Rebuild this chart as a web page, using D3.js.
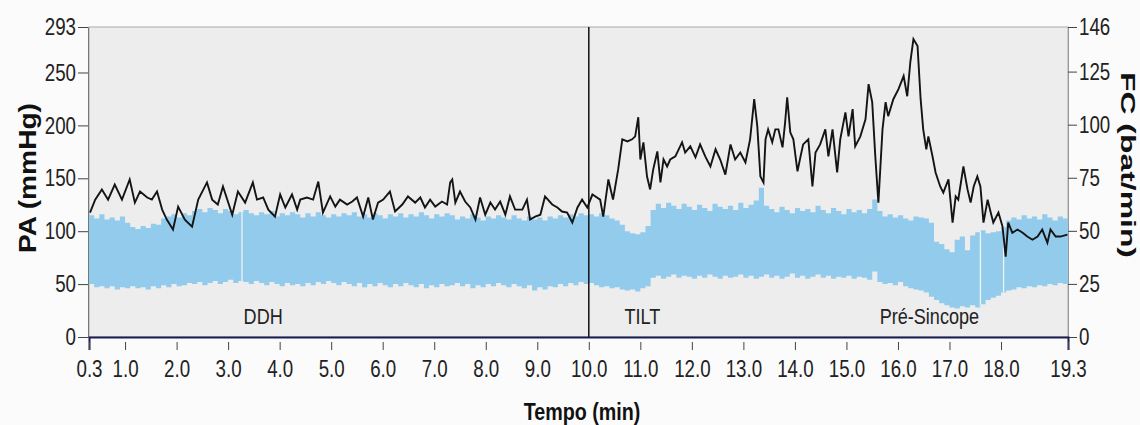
<!DOCTYPE html>
<html>
<head>
<meta charset="utf-8">
<script src="https://cdn.jsdelivr.net/npm/d3@7"></script>
<style>
  body { margin: 0; background: #fbfbfb; }
  .chart text { font-family: 'Liberation Sans', Arial, sans-serif; fill: #222; }
  .chart text.title { font-weight: bold; fill: #111; }
</style>
</head>
<body>
<div class="chart"></div>
<script>
// ticks
const paTicks = [0, 50, 100, 150, 200, 250, 293]
const fcTicks = [0, 25, 50, 75, 100, 125, 146]
const timeTicks = [0.3, 1, 2, 3, 4, 5, 6, 7, 8, 9, 10, 11, 12, 13, 14, 15, 16, 17, 18, 19.3]

// PA band (mmHg), one value every 0.1 min from 0.3
const bandStart = 0.3
const bandStep = 0.1
const paUpper = [
  115,112,116,111,113,110,114,108,104,102,
  105,103,107,106,112,114,116,113,117,115,
  119,121,118,122,120,117,121,119,116,118,
  120,117,115,118,116,119,114,117,115,118,
  116,113,117,114,118,115,113,116,114,117,
  115,118,114,116,113,117,115,112,116,114,
  117,113,116,114,118,115,112,116,114,117,
  115,111,114,112,116,113,110,114,112,115,
  113,111,115,112,110,114,111,113,110,114,
  112,115,113,116,114,117,115,116,114,117,
  115,112,110,106,100,98,97,99,105,120,
  126,122,127,124,121,126,123,120,125,122,
  119,126,123,121,124,120,127,122,125,129,
  141,124,121,118,123,120,117,122,119,121,
  118,124,120,117,122,119,116,121,118,120,
  117,121,130,119,114,116,113,115,112,110,
  114,113,112,108,90,88,83,80,92,95,
  82,96,99,101,98,99,100,104,110,113,
  111,115,112,114,111,116,113,110,114,112,113
]
const paLower = [
  50,47,48,46,48,45,47,46,48,46,
  47,45,48,46,49,47,50,48,49,51,
  50,52,49,51,53,50,52,54,51,53,
  52,50,53,51,49,52,50,48,51,49,
  50,48,51,49,52,50,53,51,49,52,
  50,48,51,47,50,48,51,49,47,50,
  48,51,49,47,50,46,49,47,50,48,
  49,51,48,50,46,49,47,50,48,51,
  49,47,50,48,46,49,44,47,45,48,
  47,50,48,51,49,52,50,51,49,47,
  48,46,47,45,44,45,43,46,48,56,
  58,55,57,59,56,58,57,55,58,56,
  59,57,55,58,56,57,59,56,58,55,
  57,59,56,58,55,57,60,56,58,55,
  57,59,56,58,55,57,56,58,55,57,
  56,54,62,52,50,51,49,52,48,46,
  45,44,42,38,35,32,30,28,27,29,
  28,30,28,31,35,37,39,42,44,45,
  47,46,48,47,49,48,50,49,51,50,49
]
const bandGaps = [3.27, 17.6, 18.05]

// FC (bat/min) : [tempo, valor]
const fcSeries = [
  [0.32,58.6],[0.42,64.7],[0.55,69.5],[0.67,64.7],[0.80,71.8],[0.94,64.7],[1.09,74.2],[1.19,63.3],[1.29,68.5],[1.43,65.7],
  [1.52,64.7],[1.62,68.5],[1.72,60.0],[1.81,55.3],[1.93,50.6],[2.03,61.4],[2.16,55.3],[2.30,52.0],[2.42,64.7],[2.59,72.8],
  [2.69,64.7],[2.80,62.4],[2.90,70.9],[3.08,57.6],[3.19,68.5],[3.33,63.3],[3.48,72.8],[3.56,64.7],[3.68,65.7],[3.78,60.0],
  [3.91,56.7],[4.01,67.1],[4.11,61.0],[4.24,67.1],[4.34,60.0],[4.40,64.7],[4.53,65.7],[4.65,64.7],[4.75,73.2],[4.84,58.6],
  [4.98,66.2],[5.08,61.4],[5.17,64.7],[5.31,62.4],[5.41,63.8],[5.50,65.7],[5.62,56.7],[5.72,65.7],[5.81,55.3],[5.91,63.3],
  [6.01,64.7],[6.14,68.5],[6.24,59.1],[6.38,62.4],[6.49,66.2],[6.63,63.3],[6.73,65.7],[6.82,61.0],[6.92,64.7],[7.02,61.4],
  [7.15,63.8],[7.25,62.4],[7.31,72.8],[7.35,74.2],[7.41,63.3],[7.50,68.5],[7.60,63.8],[7.70,61.0],[7.80,55.3],[7.89,65.7],
  [7.99,57.6],[8.09,63.3],[8.18,60.0],[8.28,63.8],[8.38,57.6],[8.47,66.2],[8.57,60.0],[8.71,60.0],[8.80,64.7],[8.86,55.3],
  [8.96,56.7],[9.06,57.6],[9.15,66.2],[9.29,62.4],[9.39,61.0],[9.48,59.1],[9.58,58.6],[9.68,53.9],[9.78,61.0],[9.87,64.7],
  [9.97,61.0],[10.07,67.1],[10.13,66.2],[10.22,64.7],[10.28,56.7],[10.38,74.2],[10.47,64.7],[10.57,78.9],[10.65,93.1],[10.75,92.1],
  [10.84,93.1],[10.90,94.5],[10.96,103.5],[11.00,83.6],[11.06,91.7],[11.13,75.6],[11.19,69.5],[11.25,78.9],[11.33,87.4],[11.39,72.8],
  [11.45,83.6],[11.52,80.3],[11.58,83.6],[11.68,85.1],[11.81,91.7],[11.87,86.9],[11.97,89.8],[12.07,84.6],[12.16,90.7],[12.26,85.1],
  [12.36,80.3],[12.46,88.4],[12.55,83.6],[12.65,76.5],[12.75,90.7],[12.84,83.6],[12.94,86.9],[13.04,82.2],[13.13,93.1],[13.21,112.0],
  [13.27,99.2],[13.33,75.6],[13.39,72.8],[13.43,93.1],[13.48,97.8],[13.56,91.7],[13.62,97.8],[13.68,97.8],[13.76,89.3],[13.81,101.1],
  [13.85,112.9],[13.91,96.4],[13.97,93.1],[14.05,78.0],[14.11,85.1],[14.16,90.7],[14.26,93.1],[14.34,70.9],[14.40,86.9],[14.49,90.7],
  [14.59,97.8],[14.65,85.1],[14.73,97.8],[14.82,77.5],[14.88,93.1],[14.98,105.8],[15.04,94.5],[15.12,107.3],[15.17,89.8],[15.27,94.5],
  [15.37,102.5],[15.43,119.1],[15.50,110.6],[15.56,85.1],[15.62,63.3],[15.70,97.8],[15.76,110.6],[15.81,104.0],[15.91,112.0],[16.01,116.7],
  [16.11,122.9],[16.18,113.4],[16.24,129.5],[16.30,140.3],[16.38,137.0],[16.44,112.0],[16.49,97.8],[16.55,88.4],[16.59,94.5],[16.67,85.1],
  [16.73,77.5],[16.82,70.9],[16.88,68.0],[16.98,74.2],[17.06,53.9],[17.12,66.2],[17.17,64.7],[17.27,80.3],[17.35,69.5],[17.41,63.3],
  [17.47,70.9],[17.54,75.6],[17.60,70.9],[17.66,53.9],[17.74,64.7],[17.80,58.6],[17.85,53.9],[17.95,58.6],[18.03,52.0],[18.09,37.8],
  [18.14,53.9],[18.22,49.1],[18.32,50.6],[18.42,49.1],[18.51,47.3],[18.61,45.8],[18.71,47.3],[18.80,50.6],[18.90,44.4],[18.96,50.6],
  [19.06,47.3],[19.15,47.3],[19.29,48.2]
]

// fases
const phaseNames = ['DDH', 'TILT', 'Pré-Sincope']
const phaseTimes = [3.68, 11.04, 16.61]
const tiltTime = 10.0

// squeeze text to look like the condensed face of the original
function squeeze(sel, k) {
  sel.each(function () {
    const w = this.getComputedTextLength()
    d3.select(this).attr('textLength', w * k).attr('lengthAdjust', 'spacingAndGlyphs')
  })
}

function draw() {
  const dimensions = {
    width: 1140,
    height: 425,
    left: 89,
    right: 1068,
    top: 27,
    bottom: 337
  }

  const _band = paUpper.map((u, i) => ({
    t: +(bandStart + i * bandStep).toFixed(2),
    hi: u,
    lo: paLower[i]
  }))

  // scales
  const _xScale = d3.scaleLinear()
                    .domain([0.3, 19.3])
                    .range([dimensions.left, dimensions.right])

  const _yPA = d3.scaleLinear()
                 .domain([0, 293])
                 .range([dimensions.bottom, dimensions.top])

  const _yFC = d3.scaleLinear()
                 .domain([0, 146])
                 .range([dimensions.bottom, dimensions.top])

  const _cont = d3.select('.chart')
                  .append('svg')
                  .attr('width', dimensions.width)
                  .attr('height', dimensions.height)

  _cont.append('rect')
       .attr('width', dimensions.width)
       .attr('height', dimensions.height)
       .attr('fill', '#fbfbfb')

  const defs = _cont.append('defs')
  defs.append('clipPath').attr('id', 'plotClip')
      .append('rect')
      .attr('x', dimensions.left)
      .attr('y', dimensions.top)
      .attr('width', dimensions.right - dimensions.left)
      .attr('height', dimensions.bottom - dimensions.top)

  // plot background
  _cont.append('rect')
       .attr('x', dimensions.left)
       .attr('y', dimensions.top)
       .attr('width', dimensions.right - dimensions.left)
       .attr('height', dimensions.bottom - dimensions.top)
       .attr('fill', '#ededed')
       .attr('stroke', '#a9a9a9')
       .attr('stroke-width', 1)

  // PA band
  const areaGen = d3.area()
                    .curve(d3.curveStepAfter)
                    .x(d => _xScale(d.t))
                    .y0(d => _yPA(d.lo))
                    .y1(d => _yPA(d.hi))

  defs.append('clipPath').attr('id', 'bandClip')
      .append('path')
      .datum(_band)
      .attr('d', areaGen)

  const plotG = _cont.append('g').attr('clip-path', 'url(#plotClip)')

  plotG.append('path')
       .datum(_band)
       .attr('d', areaGen)
       .attr('fill', '#92cbeb')

  plotG.append('g')
       .attr('clip-path', 'url(#bandClip)')
       .selectAll('line')
       .data(bandGaps)
       .join('line')
       .attr('x1', d => _xScale(d))
       .attr('x2', d => _xScale(d))
       .attr('y1', _yPA(0))
       .attr('y2', _yPA(293))
       .attr('stroke', '#f2f2f2')
       .attr('stroke-width', 1.3)

  // FC line
  const lineGen = d3.line()
                    .x(d => _xScale(d[0]))
                    .y(d => _yFC(d[1]))

  plotG.append('path')
       .datum(fcSeries)
       .attr('d', lineGen)
       .attr('fill', 'none')
       .attr('stroke', '#141414')
       .attr('stroke-width', 1.9)
       .attr('stroke-linejoin', 'miter')

  // tilt marker
  _cont.append('line')
       .attr('x1', _xScale(tiltTime))
       .attr('x2', _xScale(tiltTime))
       .attr('y1', dimensions.top)
       .attr('y2', dimensions.bottom)
       .attr('stroke', '#111')
       .attr('stroke-width', 1.5)

  // phase labels
  const phaseText = _cont.append('g')
       .selectAll('text')
       .data(phaseNames)
       .join('text')
       .text(d => d)
       .attr('x', (d, i) => _xScale(phaseTimes[i]))
       .attr('y', 324)
       .attr('text-anchor', 'middle')
       .style('font-size', '22px')
  squeeze(phaseText, 0.82)

  // y axes
  const yAxisGroup = _cont.append('g')
                          .attr('transform', `translate(${dimensions.left - 1},0)`)
                          .call(d3.axisLeft(_yPA).tickValues(paTicks).tickSize(10).tickPadding(2))
  yAxisGroup.select('.domain').attr('stroke', '#777').attr('stroke-width', 1)

  const yAxisGroupR = _cont.append('g')
                           .attr('transform', `translate(${dimensions.right},0)`)
                           .call(d3.axisRight(_yFC).tickValues(fcTicks).tickSize(9).tickPadding(2))
  yAxisGroupR.select('.domain').attr('stroke', '#999').attr('stroke-width', 1)

  // x axis
  const xAxisGroup = _cont.append('g')
                          .attr('transform', `translate(0,${dimensions.bottom})`)
                          .call(d3.axisBottom(_xScale).tickValues(timeTicks).tickFormat(d3.format('.1f')).tickSize(13).tickPadding(10))
  xAxisGroup.select('.domain').attr('stroke', '#1b1b55').attr('stroke-width', 2)
  xAxisGroup.selectAll('.tick line').attr('y1', 5).attr('y2', 13)

  const tickText = _cont.selectAll('.tick text')
                        .style('font-size', '24px')
                        .style('font-family', "'Liberation Sans', Arial, sans-serif")
                        .attr('fill', '#222')
  squeeze(tickText, 0.78)
  _cont.selectAll('.tick line').attr('stroke', '#444')

  // titles
  const xTitle = _cont.append('text')
       .classed('title', true)
       .text('Tempo (min)')
       .attr('x', 582)
       .attr('y', 420)
       .attr('text-anchor', 'middle')
       .style('font-size', '24px')
  squeeze(xTitle, 0.82)

  _cont.append('text')
       .classed('title', true)
       .text('PA  (mmHg)')
       .attr('text-anchor', 'middle')
       .attr('transform', 'translate(36,178) rotate(-90)')
       .attr('textLength', 150)
       .attr('lengthAdjust', 'spacingAndGlyphs')
       .style('font-size', '23px')

  _cont.append('text')
       .classed('title', true)
       .text('FC (bat/min)')
       .attr('text-anchor', 'middle')
       .attr('transform', 'translate(1121,165) rotate(90)')
       .attr('textLength', 186)
       .attr('lengthAdjust', 'spacingAndGlyphs')
       .style('font-size', '20px')
}

draw()
</script>
</body>
</html>
